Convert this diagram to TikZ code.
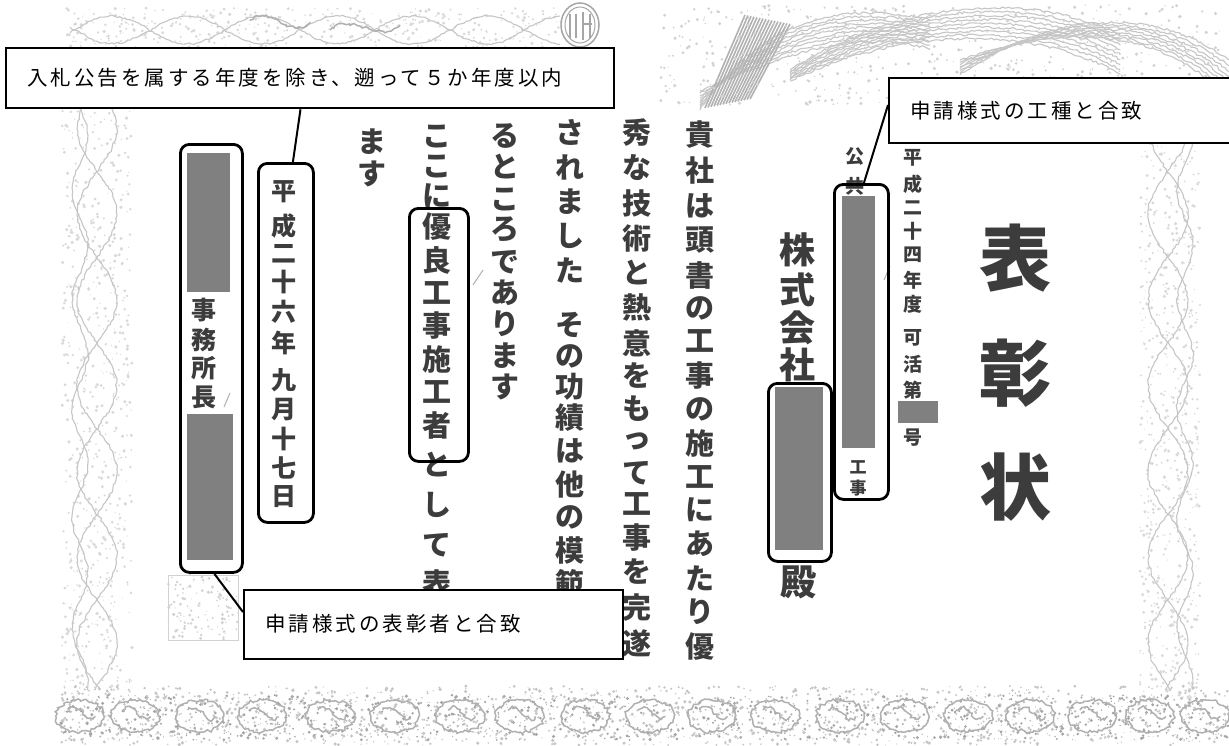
\documentclass[tikz,border=0pt]{standalone}
\usepackage{fontspec}
\newfontfamily\jp{Noto Sans CJK JP}
\newfontfamily\jpls{Noto Sans CJK JP}[LetterSpace=14.6]
\usetikzlibrary{decorations.pathmorphing}
\definecolor{ink}{HTML}{3C3C3C}
\definecolor{redgray}{HTML}{808080}
\tikzset{
  body/.style={text=ink, inner sep=0pt, font=\jp\bfseries\fontsize{29}{29}\selectfont},
  mid/.style={text=ink, inner sep=0pt, font=\jp\bfseries\fontsize{25}{25}\selectfont},
  firm/.style={text=ink, inner sep=0pt, font=\jp\bfseries\fontsize{36}{36}\selectfont},
  tiny/.style={text=ink, inner sep=0pt, font=\jp\bfseries\fontsize{19}{19}\selectfont},
  tinier/.style={text=ink, inner sep=0pt, font=\jp\bfseries\fontsize{17}{17}\selectfont},
  title/.style={text=ink, inner sep=0pt, font=\jp\bfseries\fontsize{72}{72}\selectfont},
  redact/.style={fill=redgray, draw=none, inner sep=0pt, anchor=north west},
  markbox/.style={draw=black, line width=2.8pt, rounded corners=9pt, inner sep=0pt, anchor=north west},
  callbox/.style={draw=black, line width=2.3pt, fill=white, inner sep=0pt, anchor=north west},
  calltext/.style={font=\jpls\fontsize{20.5}{20.5}\selectfont, text=black, inner sep=0pt, anchor=west},
  leader/.style={draw=black, line width=2pt},
  orn/.style={draw=gray!45, line width=1.1pt, decorate, decoration={random steps, segment length=3pt, amplitude=1.2pt}},
  ornd/.style={draw=gray!62, line width=1.5pt, decorate, decoration={random steps, segment length=2.5pt, amplitude=1.6pt}},
}
\newcommand\vcol[4]{\foreach \ch/\yy [count=\i] in {#4}{\node[#3] (#1-\i) at (#2,\yy) {\ch};}}
\newcommand\speckle[6]{\foreach \k in {1,...,#5}{%
  \pgfmathsetmacro\xx{#1+#3*rnd}\pgfmathsetmacro\yv{#2+#4*rnd}\pgfmathsetmacro\rr{0.5+1.3*rnd}%
  \fill[#6] (\xx,\yv) circle[radius=\rr pt];}}
\begin{document}
\begin{tikzpicture}[x=1pt,y=-1pt]
\useasboundingbox (0,0) rectangle (1229,745);
\fill[white] (0,0) rectangle (1229,745);
\pgfmathsetseed{4711}
% ---------- decorative border ----------
% left band
\speckle{62}{95}{70}{600}{650}{gray!30}
\draw[orn] plot[domain=95:690, samples=90] ({97+20*sin(\x*2.1)}, \x);
\draw[orn] plot[domain=95:690, samples=90] ({97-20*sin(\x*2.1)}, \x);
\draw[orn] plot[domain=95:690, samples=90] ({80+8*sin(\x*3.3)}, \x);
% right band
\speckle{1140}{110}{60}{590}{650}{gray!30}
\draw[orn] plot[domain=110:690, samples=90] ({1168+20*sin(\x*2.1)}, \x);
\draw[orn] plot[domain=110:690, samples=90] ({1168-20*sin(\x*2.1)}, \x);
\draw[orn] plot[domain=110:690, samples=90] ({1185+8*sin(\x*3.3)}, \x);
% top left band
\speckle{65}{8}{500}{50}{500}{gray!30}
\draw[orn] plot[domain=70:560, samples=90] (\x, {30+14*sin(\x*2.4)});
\draw[orn] plot[domain=70:560, samples=90] (\x, {30-14*sin(\x*2.4)});
\draw[ornd] (250,20) .. controls (270,5) and (290,40) .. (310,22);
\draw[ornd] (330,30) .. controls (350,10) and (380,45) .. (400,25);
% top right flourish
\foreach \d in {0,6,...,48}{\draw[orn] (700,{110-\d*0.4}) .. controls (760,{20+\d}) and (840,{0+\d*0.5}) .. (930,{20+\d*0.6});}
\foreach \d in {0,7,...,56}{\draw[orn] (790,{70+\d*0.2}) .. controls (900,{\d*0.5}) and (1030,{-10+\d*0.6}) .. (1120,{35+\d*0.7});}
\foreach \d in {0,7,...,49}{\draw[orn] (960,{75-\d*0.3}) .. controls (1060,{5+\d*0.4}) and (1160,{10+\d*0.3}) .. (1229,{60+\d*0.8});}
\foreach \d in {0,3,...,45}{\draw[gray!60, line width=1.6pt] ({705+\d},{108-\d*0.2}) -- ({745+\d},{15+\d*0.2});}
\speckle{660}{5}{560}{100}{600}{gray!35}
% crest
\draw[gray!70, line width=1.5pt] (580,25) ellipse[x radius=19pt, y radius=22pt];
\draw[gray!70, line width=1pt] (580,25) ellipse[x radius=15pt, y radius=18pt];
\draw[gray!70, line width=1.8pt] (570,14) -- (570,38) (576,14) -- (576,38) (583,12) -- (583,40) (583,24) -- (592,24) (590,14) -- (590,38);
% bottom band
\speckle{60}{686}{1169}{59}{1500}{gray!45}
\speckle{60}{695}{1169}{45}{900}{gray!70}
\foreach \xo in {80,135,200,262,330,395,460,520,585,650,712,775,840,905,968,1030,1092,1150,1205}{
  \draw[ornd] (\xo,716) ellipse[x radius=24pt, y radius=16pt];
  \draw[ornd] (\xo-12,710) .. controls (\xo,700) and (\xo+8,728) .. (\xo+15,716);
}
% faint seal bottom left
\draw[gray!35, line width=1pt] (168,575) rectangle (238,640);
\speckle{168}{575}{70}{65}{120}{gray!35}
% scan marks
\draw[gray!60, line width=1pt] (473,285) -- (483,270);
\draw[gray!60, line width=1pt] (224,407) -- (230,393);
\draw[gray!60, line width=1pt] (884,280) -- (890,266);
% ---------- certificate text ----------
\vcol{ca}{700}{body}{貴/135,社/171,は/206,頭/240,書/275,の/308,工/341,事/376,の/409,施/443,工/477,に/510,あ/544,た/578,り/612,優/647}
\vcol{cb}{637}{body}{秀/133,な/168,技/203,術/238,と/273,熱/308,意/343,を/376,も/409,っ/441,て/473,工/504,事/538,を/572,完/608,遂/643}
\vcol{cc}{570}{body}{さ/132,れ/167,ま/202,し/236,た/270,そ/325,の/356,功/387,績/418,は/451,他/485,の/517,模/550,範/583}
\vcol{cd}{505}{body}{る/136,と/167,こ/199,ろ/230,で/262,あ/293,り/324,ま/356,す/387}
\vcol{ce}{437}{body}{こ/136,こ/166,に/196,優/227,良/260,工/293,事/326,施/359,工/392,者/425,と/465,し/505,て/545,表/583}
\vcol{cf}{372}{body}{ま/142,す/174}
\vcol{cdate}{284}{mid}{平/192,成/226,二/254,十/282,六/312,年/343,九/380,月/410,十/439,七/468,日/497}
\vcol{coff}{204}{mid}{事/310,務/340,所/368,長/397}
\vcol{cfirm}{797}{firm}{株/250,式/290,会/328,社/365}
\node[firm] (dono) at (798,582) {殿};
\vcol{cpub}{855}{tiny}{公/157,共/186}
\vcol{cwork}{858}{tinier}{工/467,事/488}
\vcol{cno}{913}{tiny}{平/158,成/184,二/208,十/231,四/255,年/280,度/304,可/338,活/364,第/390,号/438}
\vcol{ctitle}{1015}{title}{表/258,彰/373,状/487}
% ---------- redactions ----------
\node[redact, minimum width=43pt, minimum height=139pt] (r1) at (187,153) {};
\node[redact, minimum width=46pt, minimum height=146pt] (r2) at (187,414) {};
\node[redact, minimum width=48pt, minimum height=163pt] (r3) at (775,387) {};
\node[redact, minimum width=33pt, minimum height=252pt] (r4) at (842,196) {};
\node[redact, minimum width=40pt, minimum height=22pt] (r5) at (898,401) {};
% ---------- highlight boxes ----------
\node[markbox, minimum width=62pt, minimum height=428pt] (boxoff) at (179,143) {};
\node[markbox, minimum width=55pt, minimum height=359pt] (boxdate) at (257,162) {};
\node[markbox, minimum width=59pt, minimum height=253pt] (boxgood) at (408,207) {};
\node[markbox, minimum width=63pt, minimum height=178pt] (boxfirm) at (767,382) {};
\node[markbox, minimum width=54pt, minimum height=315pt] (boxwork) at (833,183) {};
% ---------- callouts ----------
\node[callbox, minimum width=608pt, minimum height=60pt] (c1) at (5,47) {};
\node[calltext] (t1) at (27,78) {入札公告を属する年度を除き、遡って５か年度以内};
\node[callbox, minimum width=360pt, minimum height=65pt] (c2) at (888,77) {};
\node[calltext] (t2) at (910,111) {申請様式の工種と合致};
\node[callbox, minimum width=379pt, minimum height=69pt] (c3) at (243,589) {};
\node[calltext] (t3) at (265,624) {申請様式の表彰者と合致};
% leaders
\draw[leader] ([xshift=295.5pt]c1.south west) -- ([xshift=7pt]boxdate.north);
\draw[leader] ([yshift=-28pt]c2.north west) -- ([xshift=2.5pt]boxwork.north);
\draw[leader] ([xshift=3pt]boxoff.south) -- ([yshift=-23pt]c3.north west);
\end{tikzpicture}
\end{document}
